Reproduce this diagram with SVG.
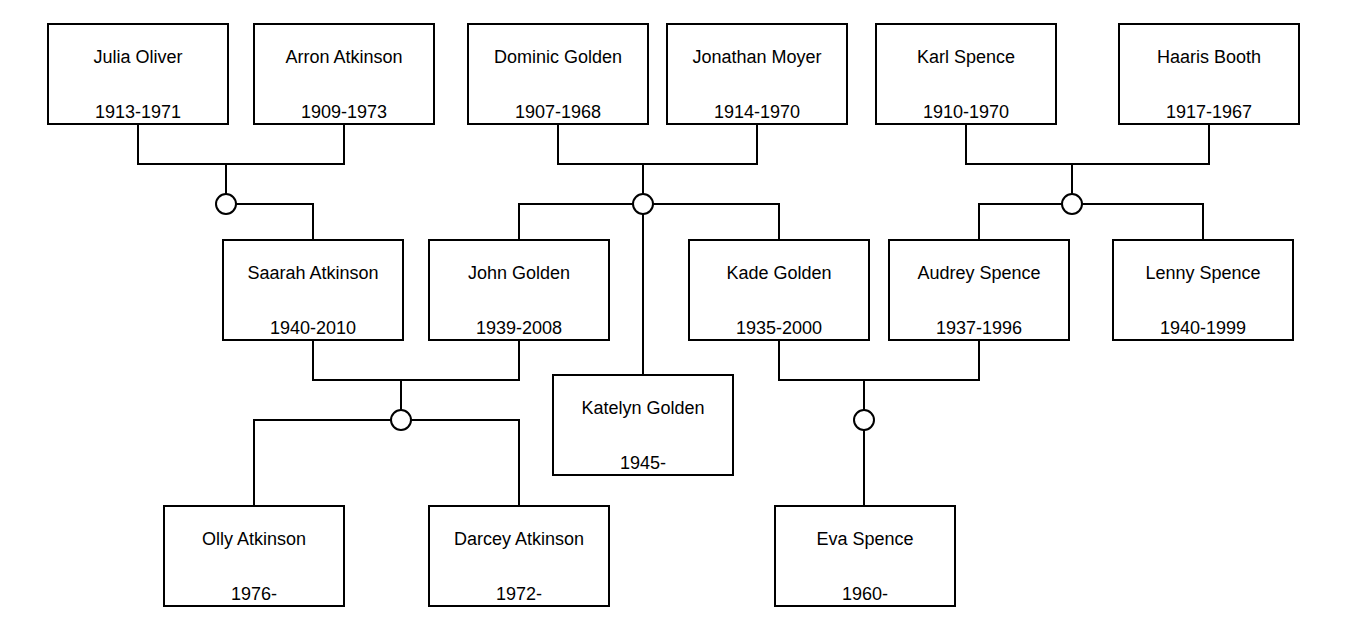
<svg xmlns="http://www.w3.org/2000/svg" width="1355" height="638" viewBox="0 0 1355 638">
<style>
.box{fill:#fff;stroke:#000;stroke-width:2}
.t{font-family:"Liberation Sans",Arial,sans-serif;font-size:18px;fill:#000;text-anchor:middle}
.c{fill:none;stroke:#000;stroke-width:2}
.j{fill:#fff;stroke:#000;stroke-width:2}
</style>
<rect width="1355" height="638" fill="#fff"/>
<g id="connectors">
<path class="c" d="M138,124 V164 H344 V124 M226,164 V194 M236,204 H313 V240"/>
<circle class="j" cx="226" cy="204" r="10"/>
<path class="c" d="M558,124 V164 H757 V124 M643,164 V194 M633,204 H519 V240 M653,204 H779 V240 M643,214 V375"/>
<circle class="j" cx="643" cy="204" r="10"/>
<path class="c" d="M966,124 V164 H1209 V124 M1072,164 V194 M1062,204 H979 V240 M1082,204 H1203 V240"/>
<circle class="j" cx="1072" cy="204" r="10"/>
<path class="c" d="M313,340 V380 H519 V340 M401,380 V410 M391,420 H254 V506 M411,420 H519 V506"/>
<circle class="j" cx="401" cy="420" r="10"/>
<path class="c" d="M779,340 V380 H979 V340 M864,380 V410 M864,430 V506"/>
<circle class="j" cx="864" cy="420" r="10"/>
</g>
<g id="julia"><rect class="box" x="48" y="24" width="180" height="100"/><text class="t" x="138" y="63">Julia Oliver</text><text class="t" x="138" y="118">1913-1971</text></g>
<g id="arron"><rect class="box" x="254" y="24" width="180" height="100"/><text class="t" x="344" y="63">Arron Atkinson</text><text class="t" x="344" y="118">1909-1973</text></g>
<g id="dominic"><rect class="box" x="468" y="24" width="180" height="100"/><text class="t" x="558" y="63">Dominic Golden</text><text class="t" x="558" y="118">1907-1968</text></g>
<g id="jonathan"><rect class="box" x="667" y="24" width="180" height="100"/><text class="t" x="757" y="63">Jonathan Moyer</text><text class="t" x="757" y="118">1914-1970</text></g>
<g id="karl"><rect class="box" x="876" y="24" width="180" height="100"/><text class="t" x="966" y="63">Karl Spence</text><text class="t" x="966" y="118">1910-1970</text></g>
<g id="haaris"><rect class="box" x="1119" y="24" width="180" height="100"/><text class="t" x="1209" y="63">Haaris Booth</text><text class="t" x="1209" y="118">1917-1967</text></g>
<g id="saarah"><rect class="box" x="223" y="240" width="180" height="100"/><text class="t" x="313" y="279">Saarah Atkinson</text><text class="t" x="313" y="334">1940-2010</text></g>
<g id="john"><rect class="box" x="429" y="240" width="180" height="100"/><text class="t" x="519" y="279">John Golden</text><text class="t" x="519" y="334">1939-2008</text></g>
<g id="kade"><rect class="box" x="689" y="240" width="180" height="100"/><text class="t" x="779" y="279">Kade Golden</text><text class="t" x="779" y="334">1935-2000</text></g>
<g id="audrey"><rect class="box" x="889" y="240" width="180" height="100"/><text class="t" x="979" y="279">Audrey Spence</text><text class="t" x="979" y="334">1937-1996</text></g>
<g id="lenny"><rect class="box" x="1113" y="240" width="180" height="100"/><text class="t" x="1203" y="279">Lenny Spence</text><text class="t" x="1203" y="334">1940-1999</text></g>
<g id="katelyn"><rect class="box" x="553" y="375" width="180" height="100"/><text class="t" x="643" y="414">Katelyn Golden</text><text class="t" x="643" y="469">1945-</text></g>
<g id="olly"><rect class="box" x="164" y="506" width="180" height="100"/><text class="t" x="254" y="545">Olly Atkinson</text><text class="t" x="254" y="600">1976-</text></g>
<g id="darcey"><rect class="box" x="429" y="506" width="180" height="100"/><text class="t" x="519" y="545">Darcey Atkinson</text><text class="t" x="519" y="600">1972-</text></g>
<g id="eva"><rect class="box" x="775" y="506" width="180" height="100"/><text class="t" x="865" y="545">Eva Spence</text><text class="t" x="865" y="600">1960-</text></g>
</svg>
